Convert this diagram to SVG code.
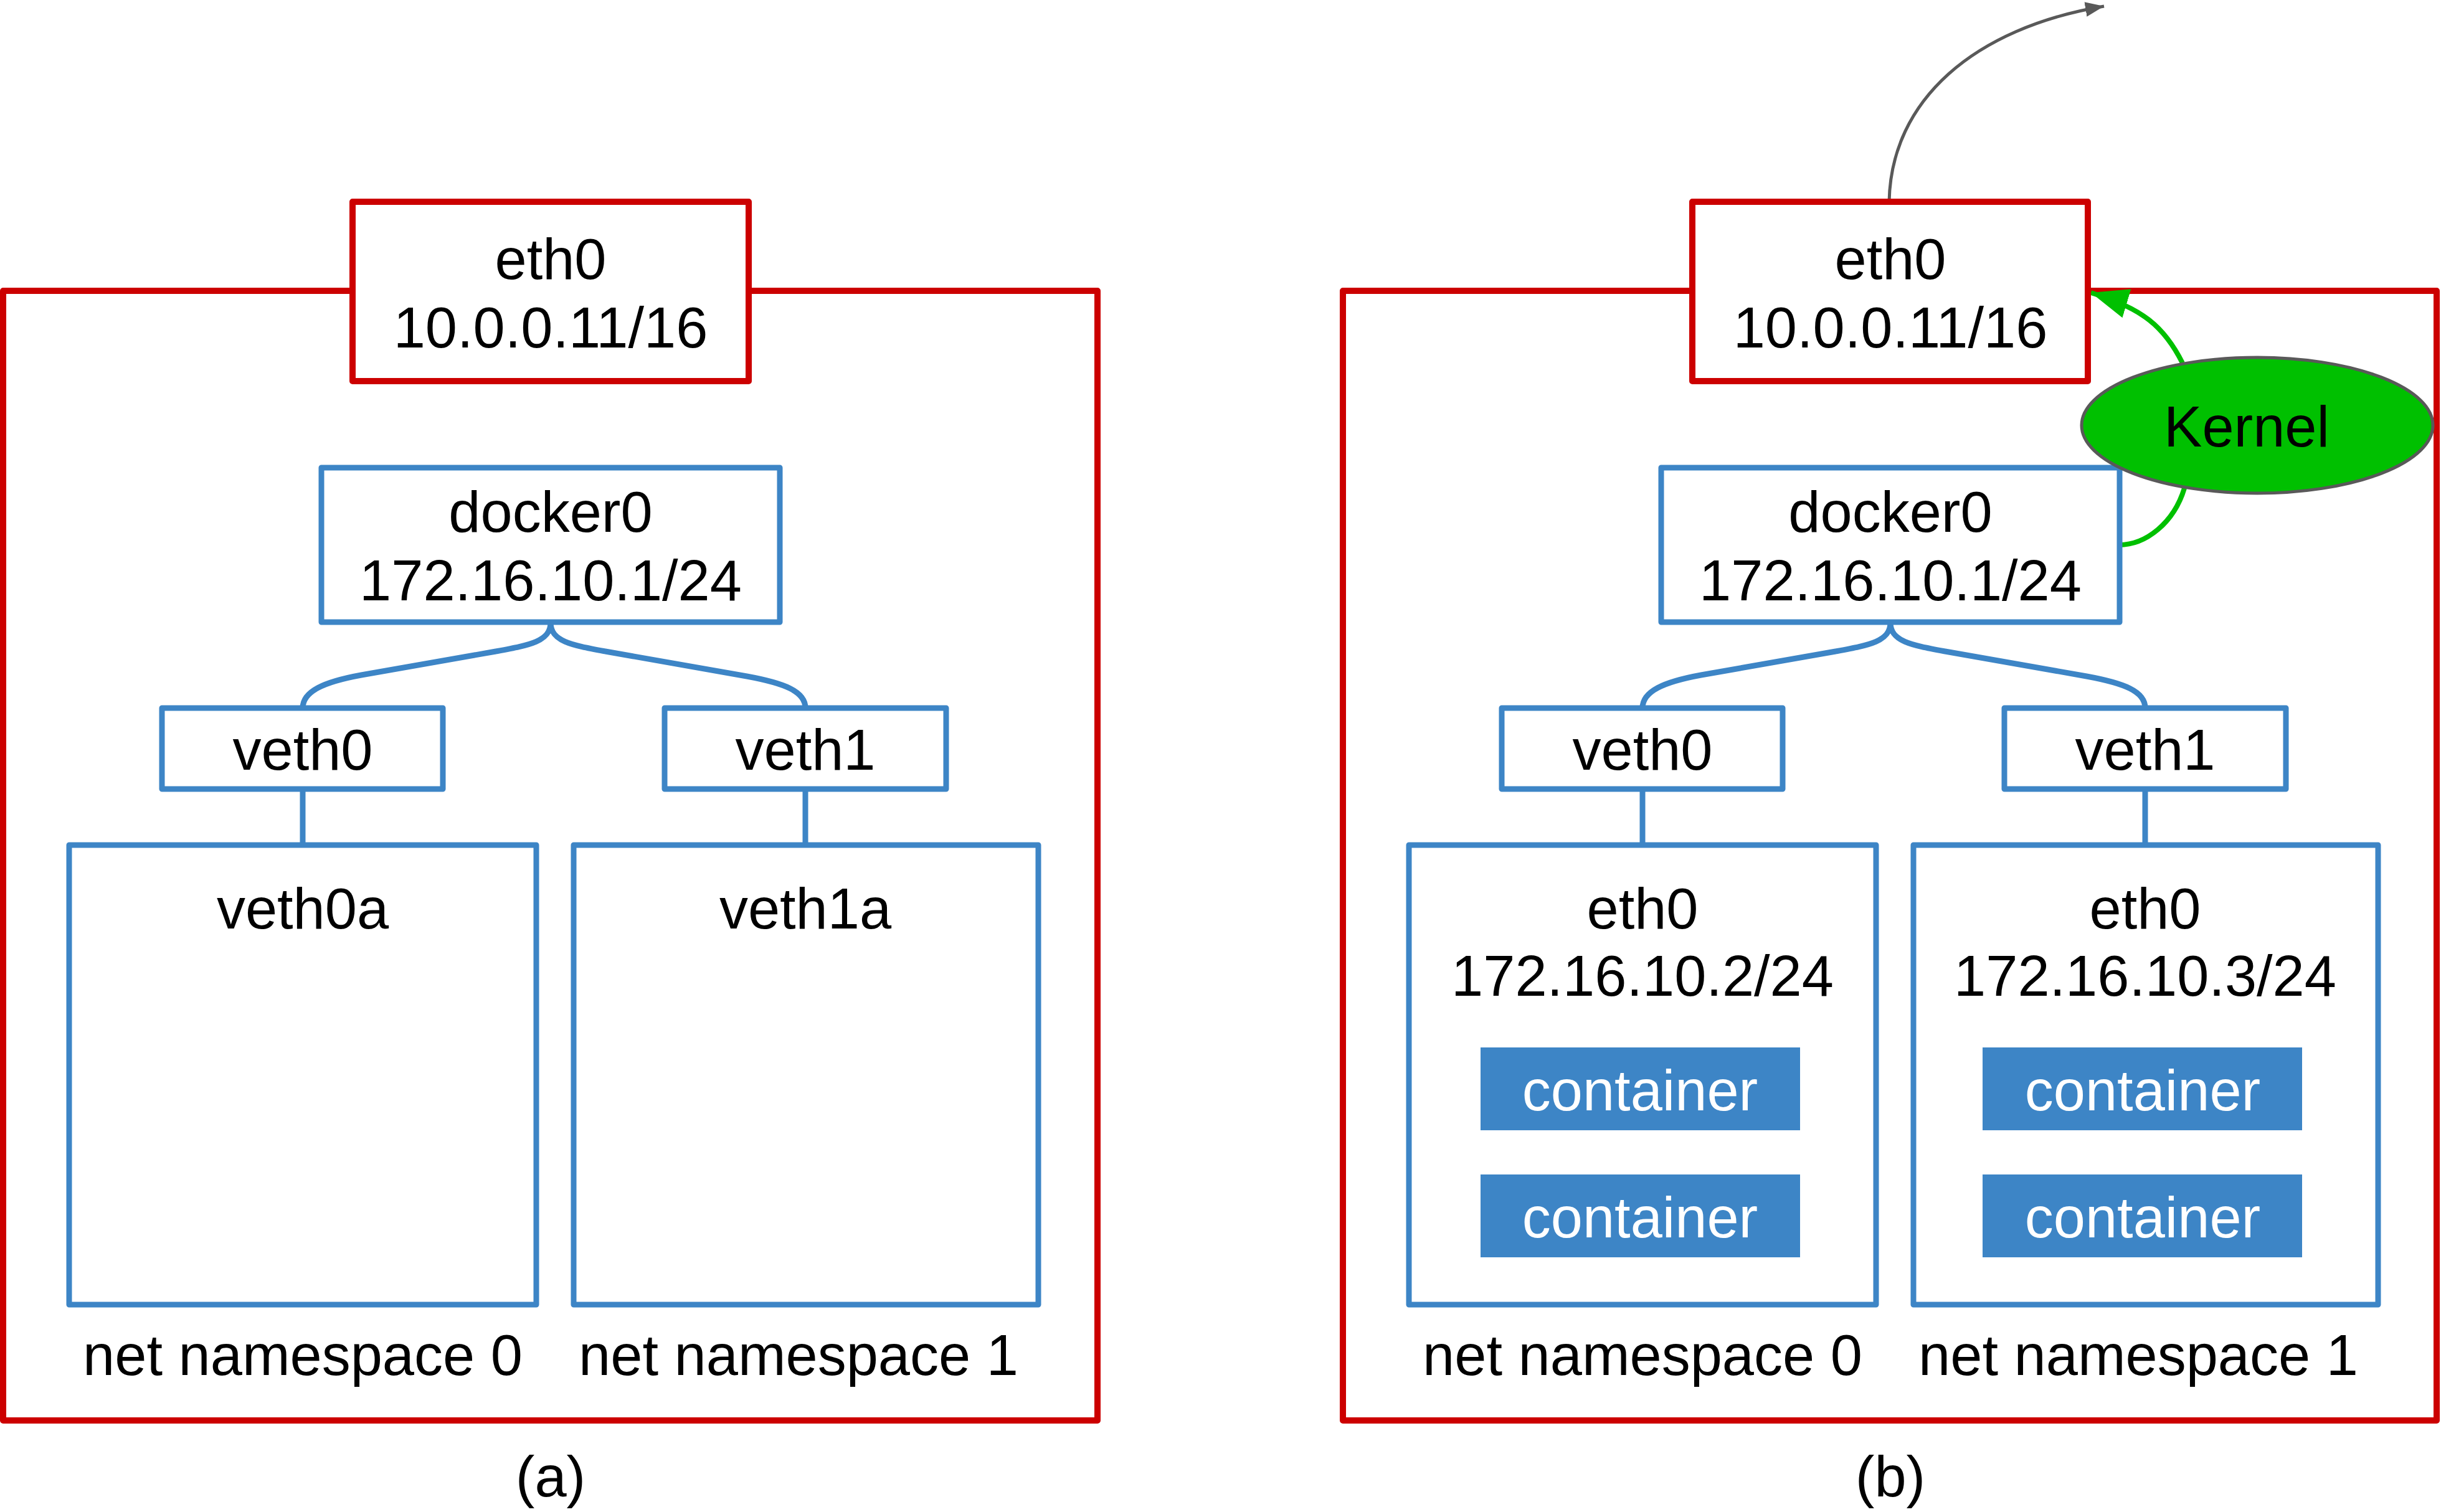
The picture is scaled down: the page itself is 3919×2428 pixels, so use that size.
<svg xmlns="http://www.w3.org/2000/svg" width="3919" height="2428" viewBox="0 0 3919 2428">
<style>
text{font-family:"Liberation Sans",Arial,sans-serif;font-size:92px;fill:#000;text-anchor:middle}
.red{fill:#fff;stroke:#cc0000;stroke-width:10;stroke-linejoin:round}
.outer{fill:none;stroke:#cc0000;stroke-width:10;stroke-linejoin:round}
.blue{fill:#fff;stroke:#3d85c6;stroke-width:9;stroke-linejoin:round}
.cont{fill:#3d85c6}
.ct{fill:#fff}
.link{fill:none;stroke:#3d85c6;stroke-width:9}
.green{fill:none;stroke:#00c000;stroke-width:8}
.gray{fill:none;stroke:#595959;stroke-width:5}
</style>
<defs>
<marker id="ag" markerUnits="userSpaceOnUse" markerWidth="62" markerHeight="48" refX="60" refY="24" orient="auto" viewBox="0 0 62 48">
<path d="M0,0 L60,24 L0,48 z" fill="#00c000"/>
</marker>
<marker id="ak" markerUnits="userSpaceOnUse" markerWidth="32" markerHeight="24" refX="30" refY="12" orient="auto" viewBox="0 0 32 24">
<path d="M0,0 L30,12 L0,24 z" fill="#595959"/>
</marker>
</defs>
<rect width="3919" height="2428" fill="#fff"/>

<!-- Panel (a) -->
<g id="host-a">
<rect class="outer" x="5" y="467" width="1757" height="1814"/>
<text x="486" y="2208">net namespace 0</text>
<text x="1282" y="2208">net namespace 1</text>
<text x="884" y="2403">(a)</text>
</g>
<g id="connectors-a">
<path class="link" d="M884,1000 C884,1030 850,1036 796,1046 L580,1084 C520,1095 486,1110 486,1137"/>
<path class="link" d="M884,1000 C884,1030 918,1036 972,1046 L1199,1086 C1259,1097 1293,1110 1293,1137"/>
<path class="link" d="M486,1267 L486,1357"/>
<path class="link" d="M1293,1267 L1293,1357"/>
</g>
<g id="eth0-a">
<rect class="red" x="566" y="324" width="636" height="288"/>
<text x="884" y="448">eth0</text>
<text x="884" y="558">10.0.0.11/16</text>
</g>
<g id="docker0-a">
<rect class="blue" x="516" y="751" width="736" height="248"/>
<text x="884" y="854">docker0</text>
<text x="884" y="964">172.16.10.1/24</text>
</g>
<g id="veth0-a">
<rect class="blue" x="260" y="1137" width="451" height="130"/>
<text x="486" y="1236">veth0</text>
</g>
<g id="veth1-a">
<rect class="blue" x="1067" y="1137" width="452" height="130"/>
<text x="1293" y="1236">veth1</text>
</g>
<g id="ns0-a">
<rect class="blue" x="111" y="1357" width="750" height="738"/>
<text x="486" y="1491">veth0a</text>
</g>
<g id="ns1-a">
<rect class="blue" x="921" y="1357" width="746" height="738"/>
<text x="1293" y="1491">veth1a</text>
</g>

<!-- Panel (b) -->
<g id="host-b">
<rect class="outer" x="2156" y="467" width="1756" height="1814"/>
<text x="2637" y="2208">net namespace 0</text>
<text x="3433" y="2208">net namespace 1</text>
<text x="3035" y="2403">(b)</text>
</g>
<g id="connectors-b">
<path class="link" d="M3035,1000 C3035,1030 3001,1036 2947,1046 L2731,1084 C2671,1095 2637,1110 2637,1137"/>
<path class="link" d="M3035,1000 C3035,1030 3069,1036 3123,1046 L3350,1086 C3410,1097 3444,1110 3444,1137"/>
<path class="link" d="M2637,1267 L2637,1357"/>
<path class="link" d="M3444,1267 L3444,1357"/>
<path class="gray" d="M3033,324 C3036,160 3170,45 3378,10" marker-end="url(#ak)"/>
<path class="green" d="M3507,784 C3490,840 3445,875 3402,875"/>
<path class="green" d="M3504,583 C3475,525 3440,495 3357,470" marker-end="url(#ag)"/>
</g>
<g id="eth0-b">
<rect class="red" x="2717" y="324" width="635" height="288"/>
<text x="3035" y="448">eth0</text>
<text x="3035" y="558">10.0.0.11/16</text>
</g>
<g id="docker0-b">
<rect class="blue" x="2667" y="751" width="736" height="248"/>
<text x="3035" y="854">docker0</text>
<text x="3035" y="964">172.16.10.1/24</text>
</g>
<g id="veth0-b">
<rect class="blue" x="2411" y="1137" width="451" height="130"/>
<text x="2637" y="1236">veth0</text>
</g>
<g id="veth1-b">
<rect class="blue" x="3218" y="1137" width="452" height="130"/>
<text x="3444" y="1236">veth1</text>
</g>
<g id="ns0-b">
<rect class="blue" x="2262" y="1357" width="750" height="738"/>
<text x="2637" y="1491">eth0</text>
<text x="2637" y="1599">172.16.10.2/24</text>
<rect class="cont" x="2377" y="1682" width="513" height="133"/>
<text class="ct" x="2633" y="1783">container</text>
<rect class="cont" x="2377" y="1886" width="513" height="133"/>
<text class="ct" x="2633" y="1987">container</text>
</g>
<g id="ns1-b">
<rect class="blue" x="3072" y="1357" width="746" height="738"/>
<text x="3444" y="1491">eth0</text>
<text x="3444" y="1599">172.16.10.3/24</text>
<rect class="cont" x="3183" y="1682" width="513" height="133"/>
<text class="ct" x="3440" y="1783">container</text>
<rect class="cont" x="3183" y="1886" width="513" height="133"/>
<text class="ct" x="3440" y="1987">container</text>
</g>
<g id="kernel">
<ellipse cx="3624" cy="683" rx="282" ry="109" fill="#00c000" stroke="#595959" stroke-width="5"/>
<text x="3607" y="717">Kernel</text>
</g>
</svg>
